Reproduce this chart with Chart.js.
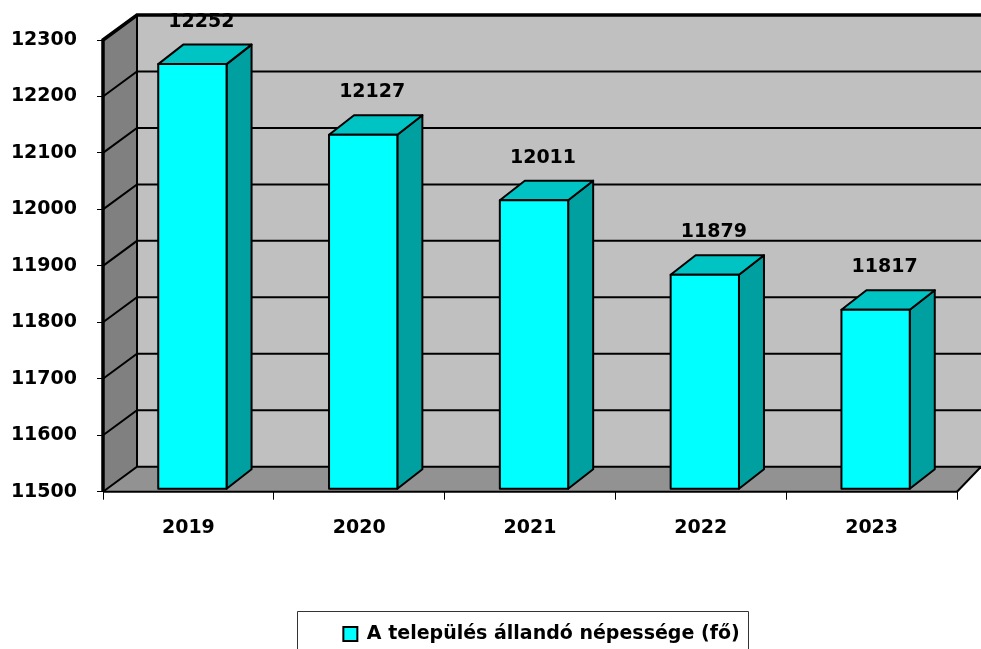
<!DOCTYPE html>
<html>
<head>
<meta charset="utf-8">
<script src="https://cdn.jsdelivr.net/npm/chart.js@4.4.1/dist/chart.umd.min.js"></script>
<style>
  body { margin: 0; background: #fff; }
  #wrap { width: 981px; height: 649px; }
</style>
</head>
<body>
<div id="wrap"><canvas id="chart"></canvas></div>
<script>
// data
const years = ['2019', '2020', '2021', '2022', '2023'];
const population = [12252, 12127, 12011, 11879, 11817];
const seriesLabel = 'A település állandó népessége (fő)';
const axisMin = 11500;
const axisMax = 12300;
const axisStep = 100;

const FONT = 'DejaVu Sans';
// fake 3D offsets (walls, bars)
const WALL_DX = 34, WALL_DY = -25;
const BAR_DX = 25, BAR_DY = -19.5;
const BAR_SHIFT_X = 4, BAR_SHIFT_Y = -3;

function poly(ctx, pts, fill, stroke, lw) {
  ctx.beginPath();
  ctx.moveTo(pts[0][0], pts[0][1]);
  for (let i = 1; i < pts.length; i++) ctx.lineTo(pts[i][0], pts[i][1]);
  ctx.closePath();
  if (fill) { ctx.fillStyle = fill; ctx.fill(); }
  if (stroke) { ctx.strokeStyle = stroke; ctx.lineWidth = lw || 1; ctx.stroke(); }
}

function line(ctx, pts, color, lw) {
  ctx.beginPath();
  ctx.moveTo(pts[0][0], pts[0][1]);
  for (let i = 1; i < pts.length; i++) ctx.lineTo(pts[i][0], pts[i][1]);
  ctx.strokeStyle = color;
  ctx.lineWidth = lw;
  ctx.stroke();
}

const box3d = {
  id: 'box3d',
  afterLayout(chart) {
    // the legend sits right of centre in the original
    const lg = chart.legend;
    const dx = 541.5 - (lg.left + lg.right) / 2;
    lg.left += dx;
    lg.right += dx;
  },
  beforeDatasetsDraw(chart) {
    const ctx = chart.ctx;
    const { left, right, top, bottom } = chart.chartArea;
    const W = chart.width + 10;
    const ys = chart.scales.y;
    ctx.save();
    // back wall
    ctx.fillStyle = '#c0c0c0';
    ctx.fillRect(left + WALL_DX, top + WALL_DY, W, bottom - top);
    // floor
    poly(ctx, [[left, bottom], [left + WALL_DX, bottom + WALL_DY], [W, bottom + WALL_DY], [right + 24, bottom + WALL_DY], [right, bottom]], '#929292');
    // left wall
    poly(ctx, [[left, top], [left + WALL_DX, top + WALL_DY], [left + WALL_DX, bottom + WALL_DY], [left, bottom]], '#808080');
    // grid lines
    ys.ticks.forEach(t => {
      if (t.value === axisMax) return;
      const y = ys.getPixelForValue(t.value);
      line(ctx, [[left, y], [left + WALL_DX, y + WALL_DY], [W, y + WALL_DY]], '#000', 2);
    });
    line(ctx, [[left + WALL_DX, top + WALL_DY], [left + WALL_DX, bottom + WALL_DY]], '#000', 2);
    line(ctx, [[right, bottom], [right + 24, bottom + WALL_DY]], '#000', 2);
    line(ctx, [[left, bottom], [right, bottom]], '#000', 2);
    line(ctx, [[left, bottom], [left, top], [left + WALL_DX, top + WALL_DY], [W, top + WALL_DY]], '#000', 3.5);
    ctx.restore();
  },
  beforeDatasetDraw() {
    return false;
  },
  afterDatasetsDraw(chart) {
    const ctx = chart.ctx;
    const meta = chart.getDatasetMeta(0);
    const ys = chart.scales.y;
    ctx.save();
    ctx.lineJoin = 'round';
    meta.data.forEach((el, i) => {
      const p = el.getProps(['x', 'y', 'width'], true);
      const x0 = p.x + BAR_SHIFT_X - p.width / 2;
      const x1 = p.x + BAR_SHIFT_X + p.width / 2;
      const yt = p.y + BAR_SHIFT_Y;
      const yb = ys.getPixelForValue(axisMin) + BAR_SHIFT_Y;
      poly(ctx, [[x1, yt], [x1 + BAR_DX, yt + BAR_DY], [x1 + BAR_DX, yb + BAR_DY], [x1, yb]], '#00a0a0', '#000', 2);
      poly(ctx, [[x0, yt], [x0 + BAR_DX, yt + BAR_DY], [x1 + BAR_DX, yt + BAR_DY], [x1, yt]], '#00c4c4', '#000', 2);
      poly(ctx, [[x0, yt], [x1, yt], [x1, yb], [x0, yb]], '#00ffff', '#000', 2);
      ctx.fillStyle = '#000';
      ctx.font = 'bold 19px "' + FONT + '"';
      ctx.textAlign = 'center';
      ctx.textBaseline = 'middle';
      ctx.fillText(String(population[i]), p.x + BAR_SHIFT_X + 9, yt + BAR_DY - 23);
    });
    ctx.restore();
  },
  afterDraw(chart) {
    const lg = chart.legend;
    const hb = lg.legendHitBoxes[0];
    if (!hb) return;
    const ctx = chart.ctx;
    ctx.save();
    ctx.strokeStyle = '#333';
    ctx.lineWidth = 1;
    const x0 = Math.round(hb.left - 46) + 0.5;
    const x1 = Math.round(hb.left + hb.width + 8) + 0.5;
    const y0 = Math.round(lg.top - 4) + 0.5;
    ctx.beginPath();
    ctx.moveTo(x0, chart.height + 5);
    ctx.lineTo(x0, y0);
    ctx.lineTo(x1, y0);
    ctx.lineTo(x1, chart.height + 5);
    ctx.stroke();
    ctx.restore();
  }
};

Chart.defaults.font.family = FONT;
Chart.defaults.color = '#000';

new Chart(document.getElementById('chart'), {
  type: 'bar',
  data: {
    labels: years,
    datasets: [{
      label: seriesLabel,
      data: population,
      backgroundColor: '#00ffff',
      borderColor: '#000',
      borderWidth: 2,
      categoryPercentage: 1,
      barPercentage: 0.4
    }]
  },
  options: {
    responsive: true,
    maintainAspectRatio: false,
    animation: false,
    layout: { padding: { top: 40, right: 24, bottom: -4.5, left: 0 } },
    plugins: {
      tooltip: { enabled: false },
      legend: {
        position: 'bottom',
        labels: {
          boxWidth: 14,
          boxHeight: 14,
          padding: 10,
          font: { size: 19, weight: 'bold' }
        }
      }
    },
    scales: {
      x: {
        grid: { drawOnChartArea: false, drawTicks: true, tickLength: 8, color: '#000', offset: true },
        border: { display: false },
        ticks: { font: { size: 19, weight: 'bold' }, padding: 17 },
        afterFit(s) { s.height = 122.8; }
      },
      y: {
        min: axisMin,
        max: axisMax,
        grid: { drawOnChartArea: false, drawTicks: true, tickLength: 6, color: '#000' },
        border: { display: false },
        ticks: {
          stepSize: axisStep,
          padding: 20,
          font: { size: 19, weight: 'bold' },
          format: { useGrouping: false }
        },
        afterFit(s) { s.width = 103; }
      }
    }
  },
  plugins: [box3d]
});
</script>
</body>
</html>
